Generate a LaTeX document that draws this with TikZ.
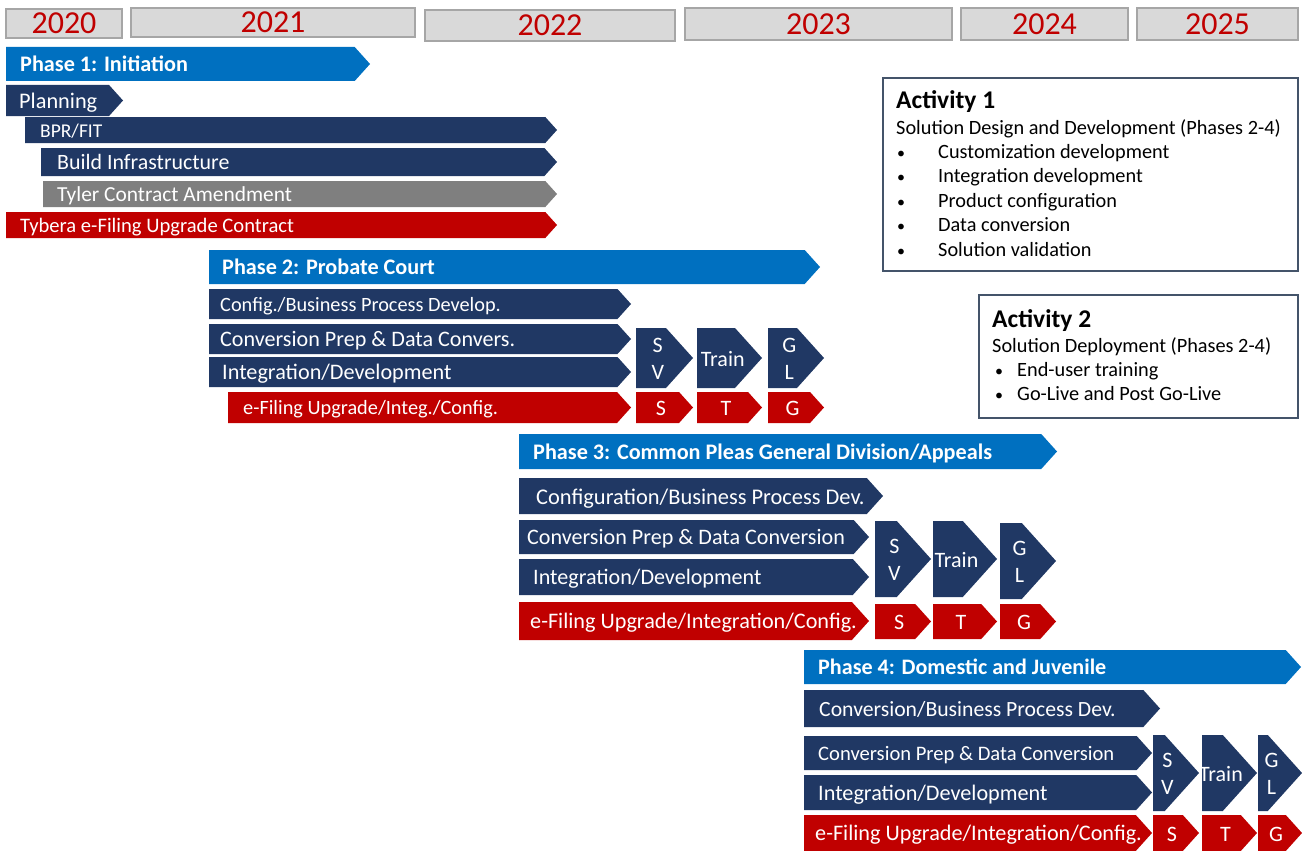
\documentclass[tikz,border=0pt]{standalone}
\usepackage{fontspec}
\setmainfont{Carlito}
\definecolor{navy}{HTML}{203864}
\definecolor{phaseblue}{HTML}{0070C0}
\definecolor{darkred}{HTML}{C00000}
\definecolor{midgray}{HTML}{7F7F7F}
\definecolor{yearfill}{HTML}{D9D9D9}
\definecolor{yearline}{HTML}{A6A6A6}
\definecolor{boxline}{HTML}{44546A}
\newcommand\fs[1]{\fontsize{#1}{#1}\selectfont}
% bar with a point, text on the left (#8 = font size)
\newcommand\chevbar[9]{%
  \fill[#2] (#3,#5) -- ({#4-0.45*(#6-#5)},#5) -- (#4,{(#5+#6)/2}) -- ({#4-0.45*(#6-#5)},#6) -- (#3,#6) -- cycle;
  \node[bartext, font=\fs{#8}] (#1) at (#7,{(#5+#6)/2+0.36*#8}) {#9};}
% short step with centred text
\newcommand\chevbox[7]{%
  \fill[#2] (#3,#5) -- ({#4-0.45*(#6-#5)},#5) -- (#4,{(#5+#6)/2}) -- ({#4-0.45*(#6-#5)},#6) -- (#3,#6) -- cycle;
  \node[steptext] (#1) at ({(#3+#4-0.225*(#6-#5))/2},{(#5+#6)/2+1}) {#7};}
\tikzset{
  bartext/.style={anchor=base west, inner sep=0pt, text=white},
  steptext/.style={inner sep=0pt, text=white, align=center, font=\fontsize{22}{27}\selectfont},
  yearbox/.style={draw=yearline, line width=1.5pt, fill=yearfill, text=darkred, font=\fs{32}, inner sep=0pt},
  actbox/.style={draw=boxline, line width=2pt},
  acttext/.style={anchor=base west, inner sep=0pt, font=\fs{20.3}},
}
\begin{document}
\begin{tikzpicture}[x=1pt, y=-1pt]
\useasboundingbox (0,0) rectangle (1302,851);

% years
\node[yearbox, minimum width=116, minimum height=29] (y2020) at (64,23.5) {\raisebox{-1.5pt}{2020}};
\node[yearbox, minimum width=284, minimum height=29] (y2021) at (273,22.5) {\raisebox{-1.5pt}{2021}};
\node[yearbox, minimum width=250, minimum height=31] (y2022) at (550,25.5) {\raisebox{-1.5pt}{2022}};
\node[yearbox, minimum width=267, minimum height=32] (y2023) at (818.5,24) {\raisebox{-1.5pt}{2023}};
\node[yearbox, minimum width=167, minimum height=32] (y2024) at (1044.5,24) {\raisebox{-1.5pt}{2024}};
\node[yearbox, minimum width=161, minimum height=32] (y2025) at (1217.5,24) {\raisebox{-1.5pt}{2025}};

% phase 1
\chevbar{ph1}{phaseblue}{6}{370}{47}{81}{20}{22.2}{\textbf{Phase 1: Initiation}}
\chevbar{plan}{navy}{6}{123}{85}{116}{19}{22.3}{Planning}
\chevbar{bpr}{navy}{25}{557}{117}{143}{40}{19.5}{BPR/FIT}
\chevbar{infra}{navy}{41}{557}{148}{176}{57}{21.9}{Build Infrastructure}
\chevbar{tyler}{midgray}{43}{557}{181}{207}{57}{21.4}{Tyler Contract Amendment}
\chevbar{tybera}{darkred}{6}{557}{212}{238}{20}{20.6}{Tybera e-Filing Upgrade Contract}

% phase 2
\chevbar{ph2}{phaseblue}{209}{820}{250}{284}{222}{22.2}{\textbf{Phase 2: Probate Court}}
\chevbar{cfgA}{navy}{209}{631}{289}{319}{220}{20.3}{Config./Business Process Develop.}
\chevbar{convA}{navy}{209}{631}{324}{354}{220}{22.1}{Conversion Prep \& Data Convers.}
\chevbar{intA}{navy}{209}{631}{357}{387}{222}{22.2}{Integration/Development}
\chevbar{efA}{darkred}{228}{631}{392}{423}{243}{20.3}{e-Filing Upgrade/Integ./Config.}
\chevbox{svA}{navy}{636}{693}{328}{388}{S\\V}
\chevbox{trA}{navy}{697}{762}{328}{388}{Train}
\chevbox{glA}{navy}{768}{824}{328}{388}{G\\L}
\chevbox{sA}{darkred}{636}{693}{392}{423}{S}
\chevbox{tA}{darkred}{697}{762}{392}{423}{T}
\chevbox{gA}{darkred}{768}{824}{392}{423}{G}

% phase 3
\chevbar{ph3}{phaseblue}{519}{1057}{434}{469}{533}{22.2}{\textbf{Phase 3: Common Pleas General Division/Appeals}}
\chevbar{cfgB}{navy}{519}{883}{478}{514}{536}{22.4}{Configuration/Business Process Dev.}
\chevbar{convB}{navy}{519}{869}{520}{554}{527}{22.1}{Conversion Prep \& Data Conversion}
\chevbar{intB}{navy}{519}{869}{559}{595}{533}{22.1}{Integration/Development}
\chevbar{efB}{darkred}{519}{869}{602}{640}{530}{22.2}{e-Filing Upgrade/Integration/Config.}
\chevbox{svB}{navy}{875}{931}{521}{597}{S\\V}
\chevbox{trB}{navy}{933}{997}{521}{597}{Train}
\chevbox{glB}{navy}{1000}{1056}{523}{599}{G\\L}
\chevbox{sB}{darkred}{875}{931}{604}{639}{S}
\chevbox{tB}{darkred}{933}{997}{604}{639}{T}
\chevbox{gB}{darkred}{1000}{1056}{604}{639}{G}

% phase 4
\chevbar{ph4}{phaseblue}{804}{1301}{650}{684}{818}{22.1}{\textbf{Phase 4: Domestic and Juvenile}}
\chevbar{cfgC}{navy}{804}{1160}{690}{727}{819}{21.7}{Conversion/Business Process Dev.}
\chevbar{convC}{navy}{804}{1152}{736}{770}{818}{20.6}{Conversion Prep \& Data Conversion}
\chevbar{intC}{navy}{804}{1152}{775}{810}{818}{22.2}{Integration/Development}
\chevbar{efC}{darkred}{804}{1152}{815}{851}{815}{22.2}{e-Filing Upgrade/Integration/Config.}
\chevbox{svC}{navy}{1153}{1199}{735}{811}{S\\V}
\chevbox{trC}{navy}{1202}{1257}{735}{811}{Train}
\chevbox{glC}{navy}{1258}{1302}{735}{811}{G\\L}
\chevbox{sC}{darkred}{1153}{1199}{815}{851}{S}
\chevbox{tC}{darkred}{1202}{1257}{815}{851}{T}
\chevbox{gC}{darkred}{1258}{1302}{815}{851}{G}

% activity boxes
\draw[actbox] (883,78) rectangle (1298,271);
\node[acttext, font=\fs{25.5}\bfseries] (act1) at (896,109) {Activity 1};
\node[acttext] (act1sub) at (896,134) {Solution Design and Development (Phases 2-4)};
\foreach \txt [count=\i] in {Customization development, Integration development, Product configuration, Data conversion, Solution validation} {
  \node[acttext, font=\fs{16}] (act1dot\i) at (897,{158+24.5*(\i-1)}) {\textbullet};
  \node[acttext] (act1item\i) at (938,{158+24.5*(\i-1)}) {\txt};
}
\draw[actbox] (979,295) rectangle (1298,418);
\node[acttext, font=\fs{25.5}\bfseries] (act2) at (992,327) {Activity 2};
\node[acttext] (act2sub) at (992,352) {Solution Deployment (Phases 2-4)};
\foreach \txt [count=\i] in {End-user training, Go-Live and Post Go-Live} {
  \node[acttext, font=\fs{16}] (act2dot\i) at (995,{376+24.5*(\i-1)}) {\textbullet};
  \node[acttext] (act2item\i) at (1017,{376+24.5*(\i-1)}) {\txt};
}
\end{tikzpicture}
\end{document}
